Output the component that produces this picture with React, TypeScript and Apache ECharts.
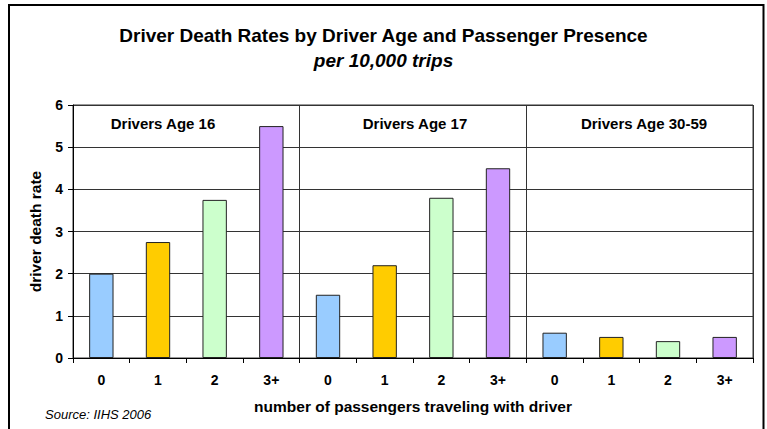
import React, { useEffect, useRef } from "react";
import * as echarts from "echarts";

const passengerCategories = ["0", "1", "2", "3+"];
const groupLabels = ["Drivers Age 16", "Drivers Age 17", "Drivers Age 30-59"];
const age16 = [2, 2.75, 3.75, 5.5];
const age17 = [1.5, 2.2, 3.8, 4.5];
const age3059 = [0.6, 0.5, 0.4, 0.5];
const barColors = ["#99CCFF", "#FFCC00", "#CCFFCC", "#CC99FF"];
const yMin = 0;
const yMax = 6;
const yInterval = 1;

const titleText = "Driver Death Rates by Driver Age and Passenger Presence";
const subtitleText = "per 10,000 trips";
const yAxisName = "driver death rate";
const xAxisName = "number of passengers traveling with driver";
const sourceText = "Source: IIHS 2006";

const FONT = "'Liberation Sans', Arial, Helvetica, sans-serif";

export default function App() {
  const ref = useRef<HTMLDivElement>(null);

  useEffect(() => {
    if (!ref.current) return;
    const chart = echarts.init(ref.current, undefined, { renderer: "svg" });

    const groupsData = [age16, age17, age3059];
    const xData: string[] = [];
    const values: any[] = [];
    groupsData.forEach((arr, gi) => {
      arr.forEach((v, i) => {
        xData.push(`${gi}|${passengerCategories[i]}`);
        values.push({
          value: v,
          itemStyle: { color: barColors[i % barColors.length] },
        });
      });
    });

    const groupLabelPos = [163, 415, 644];

    chart.setOption({
      animation: false,
      backgroundColor: "#ffffff",
      textStyle: { fontFamily: FONT },
      title: [
        {
          text: titleText,
          left: "center",
          top: 21,
          textStyle: { fontSize: 19, fontWeight: "bold", color: "#000", fontFamily: FONT },
        },
        {
          text: subtitleText,
          left: "center",
          top: 46,
          textStyle: {
            fontSize: 19,
            fontWeight: "bold",
            fontStyle: "italic",
            color: "#000",
            fontFamily: FONT,
          },
        },
      ],
      grid: {
        left: 73,
        right: 14,
        top: 105,
        bottom: 71,
        show: true,
        borderColor: "#333",
        borderWidth: 1,
        backgroundColor: "transparent",
      },
      xAxis: {
        type: "category",
        data: xData,
        boundaryGap: true,
        name: xAxisName,
        nameLocation: "middle",
        nameGap: 40,
        nameTextStyle: { fontSize: 15.5, fontWeight: "bold", color: "#000", fontFamily: FONT },
        axisLine: { show: true, lineStyle: { color: "#000", width: 1 } },
        axisTick: { show: true, interval: 0, length: 5, lineStyle: { color: "#000" } },
        axisLabel: {
          interval: 0,
          margin: 15,
          fontSize: 14,
          fontWeight: "bold",
          color: "#000",
          fontFamily: FONT,
          formatter: (v: string) => v.split("|")[1],
        },
        splitLine: {
          show: true,
          interval: (index: number) => index === 4 || index === 8,
          lineStyle: { color: "#333", width: 1 },
        },
      },
      yAxis: {
        type: "value",
        min: yMin,
        max: yMax,
        interval: yInterval,
        name: yAxisName,
        nameLocation: "middle",
        nameGap: 30,
        nameTextStyle: { fontSize: 15.5, fontWeight: "bold", color: "#000", fontFamily: FONT },
        axisLine: { show: true, lineStyle: { color: "#000", width: 1 } },
        axisTick: { show: true, length: 5, lineStyle: { color: "#000" } },
        axisLabel: {
          margin: 10,
          fontSize: 14,
          fontWeight: "bold",
          color: "#000",
          fontFamily: FONT,
        },
        splitLine: { show: true, lineStyle: { color: "#333", width: 1 } },
      },
      series: [
        {
          type: "bar",
          data: values,
          barWidth: "43%",
          itemStyle: { borderColor: "#222", borderWidth: 1 },
        },
      ],
      graphic: [
        {
          type: "rect",
          shape: { x: 9, y: 5, width: 754.5, height: 440 },
          style: { fill: "none", stroke: "#000", lineWidth: 2 },
          silent: true,
        },
        ...groupLabels.map((g, i) => ({
          type: "text",
          x: groupLabelPos[i],
          y: 123,
          style: {
            text: g,
            fontSize: 15,
            fontWeight: "bold",
            fontFamily: FONT,
            fill: "#000",
            textAlign: "center",
            textVerticalAlign: "middle",
          },
        })),
        {
          type: "text",
          x: 45,
          y: 414,
          style: {
            text: sourceText,
            fontSize: 13,
            fontStyle: "italic",
            fontFamily: FONT,
            fill: "#000",
            textAlign: "left",
            textVerticalAlign: "middle",
          },
        },
      ],
    });

    return () => {
      chart.dispose();
    };
  }, []);

  return (
    <div
      ref={ref}
      style={{ position: "fixed", left: 0, top: 0, width: 767, height: 429 }}
    />
  );
}
